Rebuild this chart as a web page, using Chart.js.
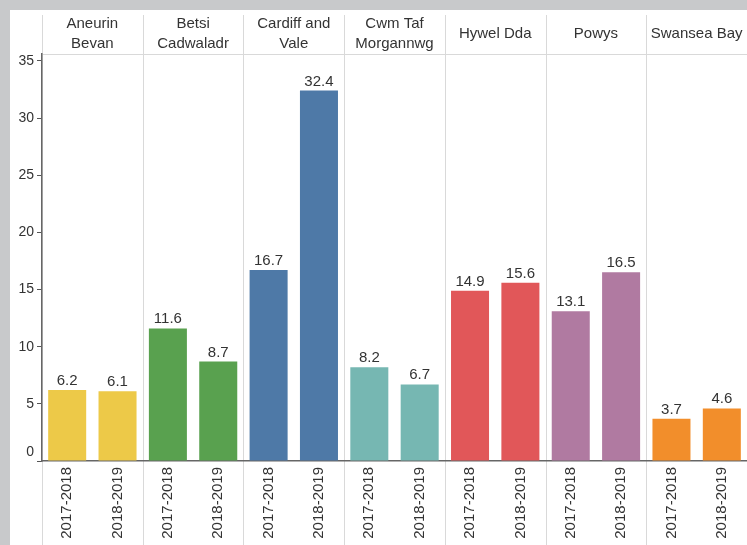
<!DOCTYPE html>
<html>
<head>
<meta charset="utf-8">
<script src="https://cdn.jsdelivr.net/npm/chart.js@4"></script>
<style>
  html, body { margin: 0; padding: 0; background: #c8c9cb; width: 747px; height: 545px; overflow: hidden; }
  #wrap { position: absolute; left: 10px; top: 10px; width: 737px; height: 535px; background: #ffffff; }
  canvas { display: block; }
</style>
</head>
<body>
<div id="wrap"><canvas id="c" width="737" height="535"></canvas></div>
<script>
const regions = [['Aneurin', 'Bevan'], ['Betsi', 'Cadwaladr'], ['Cardiff and', 'Vale'], ['Cwm Taf', 'Morgannwg'], 'Hywel Dda', 'Powys', 'Swansea Bay'];
const years = ['2017-2018', '2018-2019'];
const values2017 = [6.2, 11.6, 16.7, 8.2, 14.9, 13.1, 3.7];
const values2018 = [6.1, 8.7, 32.4, 6.7, 15.6, 16.5, 4.6];
const regionColors = ['#EDC948', '#59A14F', '#4E79A7', '#76B7B2', '#E15759', '#B07AA1', '#F28E2B'];
const yTicks = [0, 5, 10, 15, 20, 25, 30, 35];

const FONT = '"Liberation Sans", Arial, sans-serif';
const TEXT = '#333333';

// build category table
const labels = [];
const values = [];
const colors = [];
regions.forEach((r, i) => {
  labels.push(years[0]); values.push(values2017[i]); colors.push(regionColors[i]);
  labels.push(years[1]); values.push(values2018[i]); colors.push(regionColors[i]);
});

const panelPlugin = {
  id: 'panels',
  beforeDraw(chart) {
    const x = chart.scales.x;
    if (!x) return;
    const ctx = chart.ctx;
    const n = labels.length;
    const step = x.getPixelForValue(1) - x.getPixelForValue(0);
    ctx.save();
    ctx.strokeStyle = '#d9d9d9';
    ctx.lineWidth = 1;
    for (let k = 0; k <= regions.length; k++) {
      let px;
      if (k === 0) px = x.getPixelForValue(0) - step / 2;
      else if (k === regions.length) px = x.getPixelForValue(n - 1) + step / 2;
      else px = (x.getPixelForValue(2 * k - 1) + x.getPixelForValue(2 * k)) / 2;
      px = Math.round(px) + 0.5;
      ctx.beginPath();
      ctx.moveTo(px, 5);
      ctx.lineTo(px, chart.height);
      ctx.stroke();
    }
    ctx.restore();
  },
  afterDatasetsDraw(chart) {
    const ctx = chart.ctx;
    const meta = chart.getDatasetMeta(0);
    ctx.save();
    ctx.font = '15px ' + FONT;
    ctx.fillStyle = TEXT;
    ctx.textAlign = 'center';
    ctx.textBaseline = 'alphabetic';
    meta.data.forEach((bar, i) => {
      ctx.fillText(values[i].toFixed(1), bar.x, bar.y - 5);
    });
    ctx.restore();
  }
};

function noSidePadding(s) { s.paddingLeft = 0; s.paddingRight = 0; }

new Chart(document.getElementById('c'), {
  type: 'bar',
  data: {
    labels: labels,
    datasets: [{
      data: values,
      backgroundColor: colors,
      borderWidth: 0,
      categoryPercentage: 1,
      barPercentage: 0.755,
      xAxisID: 'x',
      yAxisID: 'y'
    }]
  },
  options: {
    responsive: false,
    animation: false,
    layout: { padding: 0 },
    plugins: { legend: { display: false }, tooltip: { enabled: false } },
    scales: {
      x: {
        type: 'category',
        position: 'bottom',
        offset: true,
        grid: { display: true, drawOnChartArea: false, drawTicks: false, color: 'rgba(0,0,0,0)' },
        border: { display: true, color: '#666666', width: 1.5 },
        ticks: {
          autoSkip: false, minRotation: 90, maxRotation: 90, padding: 6,
          color: TEXT, font: { family: FONT, size: 15 }
        },
        afterFit(s) { s.height = 84; noSidePadding(s); }
      },
      xTop: {
        type: 'category',
        position: 'top',
        labels: regions,
        offset: true,
        grid: { display: true, drawOnChartArea: false, drawTicks: false, color: 'rgba(0,0,0,0)' },
        border: { display: true, color: '#d9d9d9', width: 1 },
        ticks: {
          autoSkip: false, maxRotation: 0, minRotation: 0, padding: 10, crossAlign: 'center',
          color: TEXT, font: { family: FONT, size: 15, lineHeight: 1.33 }
        },
        afterFit(s) { s.height = 44; noSidePadding(s); }
      },
      y: {
        type: 'linear',
        position: 'left',
        min: 0,
        max: 35.6,
        grid: { display: true, drawOnChartArea: false, drawTicks: true, tickLength: 5, color: '#555555', lineWidth: 1 },
        border: { display: true, color: '#666666', width: 1.5 },
        afterBuildTicks(s) { s.ticks = yTicks.map(v => ({ value: v })); },
        ticks: {
          padding: 3,
          color: TEXT,
          font: { family: FONT, size: 14 },
          callback(v) { return v === 0 ? ['0', ''] : String(v); }
        },
        afterFit(s) { s.width = 32; }
      }
    }
  },
  plugins: [panelPlugin]
});
</script>
</body>
</html>
